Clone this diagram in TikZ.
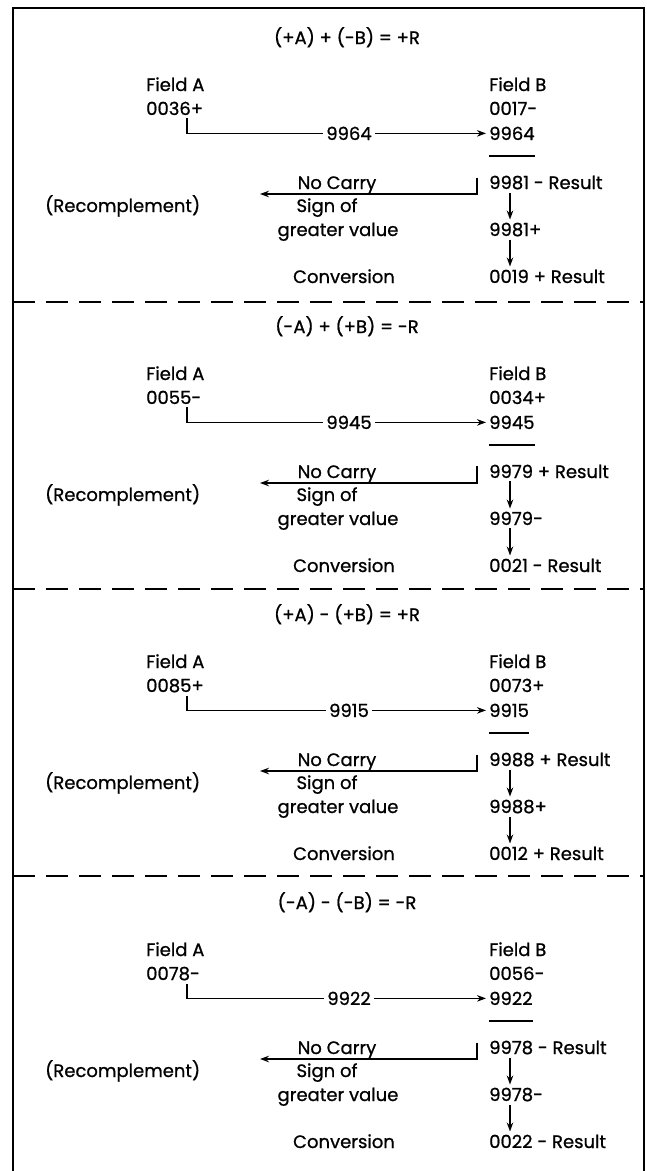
\documentclass[tikz,border=0pt]{standalone}
\usepackage{fontspec}
\setmainfont{Poppins}[FakeBold=0.9]
\usetikzlibrary{arrows.meta}
\newcommand\panel[9]{%
  % #1 name, #2 T (title cap centre), #3 title, #4 numA, #5 numB, #6 complement, #7 result, #8 signed, #9 final
  \node[ct] (#1t)   at (347,#2+6)   {#3};
  \node[lt] (#1fa)  at (143,#2+53)  {Field A};
  \node[lt] (#1na)  at (143,#2+77)  {#4};
  \node[lt] (#1fb)  at (486,#2+53)  {Field B};
  \node[lt] (#1nb)  at (486,#2+77)  {#5};
  \node[ct] (#1c)   at (349,#2+102) {#6};
  \node[lt] (#1nb2) at (486,#2+102) {#6};
  \node[lt] (#1r)   at (486,#2+151) {#7};
  \node[ct] (#1nca) at (337,#2+151) {No Carry};
  \node[lt] (#1rc)  at (42,#2+174)  {(Recomplement)};
  \node[ct] (#1so)  at (327,#2+174) {Sign of};
  \node[ct] (#1gv)  at (338,#2+198) {greater value};
  \node[lt] (#1s)   at (486,#2+198) {#8};
  \node[ct] (#1cv)  at (344,#2+245) {Conversion};
  \node[lt] (#1f)   at (486,#2+245) {#9};
  \coordinate (#1nc) at (260,#2+156);
  \draw[conn] ([xshift=44pt]#1na.south west) |- (#1c.west);
  \draw[arr] (#1c.east) -- (#1nb2.west);
  \draw[conn] ([shift={(3,13)}]#1nb2.south west) -- ([shift={(-3,13)}]#1nb2.south east);
  \draw[arr] ([shift={(-9,-5)}]#1r.west) |- (#1nc);
  \draw[arr] ([xshift=24pt]#1r.south west) -- ([xshift=24pt]#1s.north west);
  \draw[arr] ([xshift=24pt]#1s.south west) -- ([xshift=24pt]#1f.north west);
}
\begin{document}
\begin{tikzpicture}[x=1pt,y=-1pt,
  every node/.style={font=\fontsize{18}{21}\selectfont, inner sep=3pt},
  lt/.style={anchor=base west},
  ct/.style={anchor=base},
  conn/.style={line width=1.7pt},
  arr/.style={conn, -{Stealth[length=9pt,width=6.5pt]}},
  sep/.style={line width=1.9pt, dash pattern=on 22pt off 11pt},
  frame/.style={line width=1.9pt, line join=miter}]
  \useasboundingbox (0,0) rectangle (647,1171);
  \draw[frame] (13,1171) -- (13,8) -- (644,8) -- (644,1171);
  \draw[sep] (13,302) -- (644,302);
  \draw[sep] (13,589) -- (644,589);
  \draw[sep] (13,876) -- (644,876);
  \panel{a}{38}{(+A) + (-B) = +R}{0036+}{0017-}{9964}{9981 - Result}{9981+}{0019 + Result}
  \panel{b}{327}{(-A) + (+B) = -R}{0055-}{0034+}{9945}{9979 + Result}{9979-}{0021 - Result}
  \panel{c}{615}{(+A) - (+B) = +R}{0085+}{0073+}{9915}{9988 + Result}{9988+}{0012 + Result}
  \panel{d}{903}{(-A) - (-B) = -R}{0078-}{0056-}{9922}{9978 - Result}{9978-}{0022 - Result}
\end{tikzpicture}
\end{document}
